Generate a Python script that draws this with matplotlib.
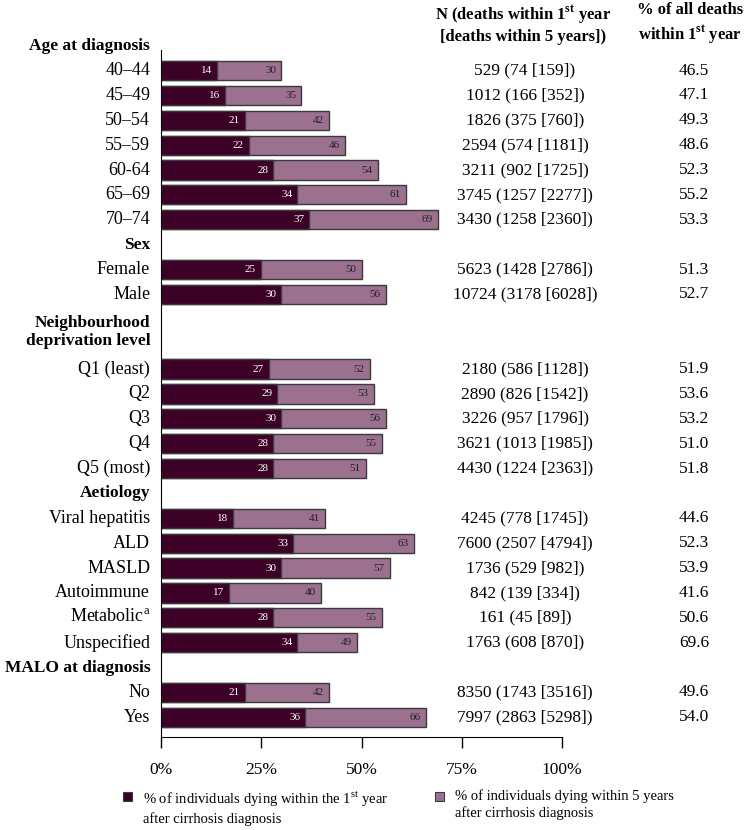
import matplotlib.pyplot as plt
import matplotlib.transforms as mtransforms
from matplotlib.patches import Rectangle

plt.rcParams['font.family'] = ['Liberation Serif', 'DejaVu Serif']
plt.rcParams['mathtext.fontset'] = 'custom'
plt.rcParams['mathtext.rm'] = 'Liberation Serif'
plt.rcParams['mathtext.bf'] = 'Liberation Serif:bold'

# data, grouped as in the figure
groups = ['Age at diagnosis', 'Sex', 'Neighbourhood\ndeprivation level',
          'Aetiology', 'MALO at diagnosis']
group_slots = [1, 1, 2, 1, 1]

age_labels = ['40–44', '45–49', '50–54', '55–59', '60-64', '65–69', '70–74']
age_yr1 = [14, 16, 21, 22, 28, 34, 37]
age_yr5 = [30, 35, 42, 46, 54, 61, 69]
age_n = ['529 (74 [159])', '1012 (166 [352])', '1826 (375 [760])',
         '2594 (574 [1181])', '3211 (902 [1725])', '3745 (1257 [2277])',
         '3430 (1258 [2360])']
age_pct = ['46.5', '47.1', '49.3', '48.6', '52.3', '55.2', '53.3']

sex_labels = ['Female', 'Male']
sex_yr1 = [25, 30]
sex_yr5 = [50, 56]
sex_n = ['5623 (1428 [2786])', '10724 (3178 [6028])']
sex_pct = ['51.3', '52.7']

dep_labels = ['Q1 (least)', 'Q2', 'Q3', 'Q4', 'Q5 (most)']
dep_yr1 = [27, 29, 30, 28, 28]
dep_yr5 = [52, 53, 56, 55, 51]
dep_n = ['2180 (586 [1128])', '2890 (826 [1542])', '3226 (957 [1796])',
         '3621 (1013 [1985])', '4430 (1224 [2363])']
dep_pct = ['51.9', '53.6', '53.2', '51.0', '51.8']

aet_labels = ['Viral hepatitis', 'ALD', 'MASLD', 'Autoimmune',
              'Metabolic$^{\\mathrm{a}}$', 'Unspecified']
aet_yr1 = [18, 33, 30, 17, 28, 34]
aet_yr5 = [41, 63, 57, 40, 55, 49]
aet_n = ['4245 (778 [1745])', '7600 (2507 [4794])', '1736 (529 [982])',
         '842 (139 [334])', '161 (45 [89])', '1763 (608 [870])']
aet_pct = ['44.6', '52.3', '53.9', '41.6', '50.6', '69.6']

malo_labels = ['No', 'Yes']
malo_yr1 = [21, 36]
malo_yr5 = [42, 66]
malo_n = ['8350 (1743 [3516])', '7997 (2863 [5298])']
malo_pct = ['49.6', '54.0']

labels = [age_labels, sex_labels, dep_labels, aet_labels, malo_labels]
yr1 = [age_yr1, sex_yr1, dep_yr1, aet_yr1, malo_yr1]
yr5 = [age_yr5, sex_yr5, dep_yr5, aet_yr5, malo_yr5]
n_text = [age_n, sex_n, dep_n, aet_n, malo_n]
pct_text = [age_pct, sex_pct, dep_pct, aet_pct, malo_pct]

dark = '#3d0027'
light = '#9c7190'
edge = '#3a3a3a'

fig = plt.figure(figsize=(7.5, 8.3), dpi=100)
ax = fig.add_axes([161 / 750, 1 - 737 / 830, 401 / 750, (737 - 50) / 830])

lab_tr = mtransforms.blended_transform_factory(ax.transAxes, ax.transData)
col_tr = mtransforms.blended_transform_factory(fig.transFigure, ax.transData)

pos = -1
for g in range(len(groups)):
    hy = pos + (group_slots[g] - 1) / 2
    ax.text(-0.027, hy, groups[g], transform=lab_tr, ha='right', va='center',
            fontsize=12.5, fontweight='bold', multialignment='right',
            linespacing=1.2)
    pos += group_slots[g]
    for i in range(len(labels[g])):
        y = pos
        ax.barh(y, yr5[g][i], height=0.77, color=light, edgecolor=edge,
                linewidth=1)
        ax.barh(y, yr1[g][i], height=0.77, color=dark, edgecolor=edge,
                linewidth=1)
        ax.text(yr1[g][i] - 1.3, y, str(yr1[g][i]), ha='right', va='center',
                fontsize=8, color='white')
        ax.text(yr5[g][i] - 1.3, y, str(yr5[g][i]), ha='right', va='center',
                fontsize=8, color='#222222')
        ax.text(-0.027, y, labels[g][i], transform=lab_tr, ha='right',
                va='center', fontsize=13)
        ax.text(525 / 750, y, n_text[g][i], transform=col_tr, ha='center',
                va='center', fontsize=12.5)
        ax.text(694 / 750, y, pct_text[g][i], transform=col_tr, ha='center',
                va='center', fontsize=12.5)
        pos += 1

ax.set_xlim(0, 100)
ax.set_ylim(26.79, -0.824)
ax.set_xticks([0, 25, 50, 75, 100])
ax.set_xticklabels(['0%', '25%', '50%', '75%', '100%'], fontsize=12.5)
ax.set_yticks([])
ax.tick_params(axis='x', direction='out', length=8, width=1, pad=10)
ax.spines['top'].set_visible(False)
ax.spines['right'].set_visible(False)

# column headers
fig.text(523 / 750, 1 - 24 / 830,
         'N (deaths within 1$^{\\mathbf{st}}$ year\n[deaths within 5 years])',
         ha='center', va='center', fontsize=12, fontweight='bold',
         linespacing=1.3)
fig.text(690 / 750, 1 - 24 / 830,
         '% of all deaths\nwithin 1$^{\\mathbf{st}}$ year',
         ha='center', va='center', fontsize=12, fontweight='bold',
         linespacing=1.3)

# legend
for lx, col, txt in [(123, dark, '% of individuals dying within the 1$^{\\mathrm{st}}$ year\nafter cirrhosis diagnosis'),
                     (435, light, '% of individuals dying within 5 years\nafter cirrhosis diagnosis')]:
    fig.patches.append(Rectangle((lx / 750, 1 - 801 / 830), 9 / 750, 9 / 830,
                                 transform=fig.transFigure, facecolor=col,
                                 edgecolor=edge, linewidth=0.8))
    fig.text((lx + 20) / 750, 1 - 789 / 830, txt, ha='left', va='top',
             fontsize=10.5, linespacing=1.3)

plt.savefig('out.png', format='png')
